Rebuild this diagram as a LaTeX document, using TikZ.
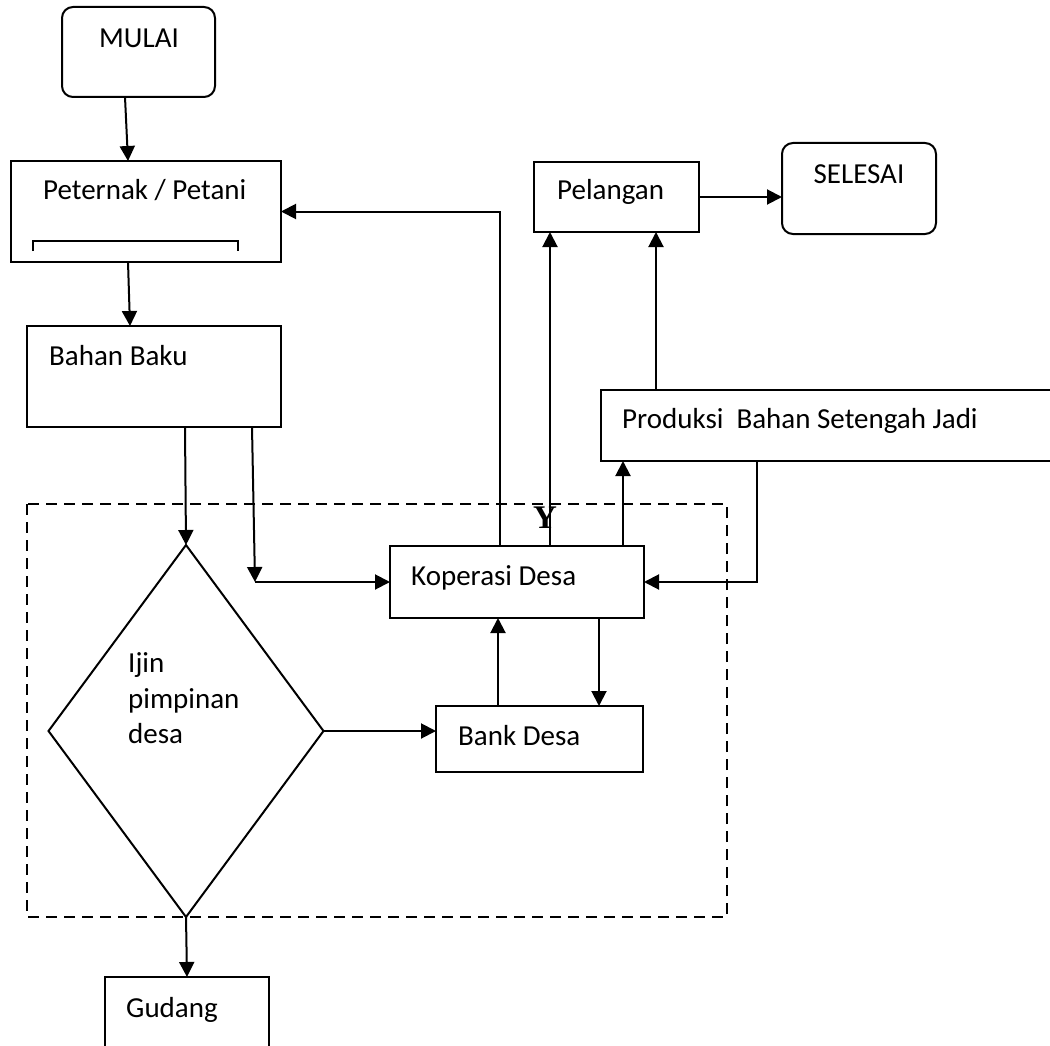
\documentclass[tikz,border=0pt]{standalone}
\usepackage{fontspec}
\setmainfont{Carlito}
\newfontfamily\yfont{Liberation Serif}
\usetikzlibrary{arrows.meta,shapes.geometric}
\begin{document}
\begin{tikzpicture}[x=1pt,y=-1pt,
  every node/.style={font=\fontsize{29}{36}\selectfont},
  box/.style={draw,line width=2pt,anchor=north west,inner sep=0pt,outer sep=0pt},
  rbox/.style={box,rounded corners=11pt},
  lbl/.style={anchor=base west,inner sep=0pt},
  arr/.style={line width=2pt,-{Triangle[length=15pt,width=15pt]}},
  grp/.style={line width=2.4pt,dash pattern=on 11pt off 7pt}]
\useasboundingbox (0,0) rectangle (1050,1046);
% dashed group
\draw[grp] (27,504) rectangle (727,917);
% boxes
\node[rbox,minimum width=153pt,minimum height=90pt] (mulai) at (62,7) {};
\node[anchor=base,inner sep=0pt] (tmulai) at (139,48) {MULAI};
\node[box,minimum width=270pt,minimum height=101pt] (peternak) at (11,161) {};
\node[lbl] (tpeternak) at (43,200) {Peternak / Petani};
\draw[line width=1.6pt] (33,251) -- (33,241) -- (238,241) -- (238,251);
\node[box,minimum width=254pt,minimum height=101pt] (bahan) at (27,326) {};
\node[lbl] (tbahan) at (49,365) {Bahan Baku};
\node[box,minimum width=165pt,minimum height=70pt] (pelangan) at (534,162) {};
\node[lbl] (tpelangan) at (557,200) {Pelangan};
\node[rbox,minimum width=154pt,minimum height=91pt] (selesai) at (782,143) {};
\node[anchor=base,inner sep=0pt] (tselesai) at (859,183) {SELESAI};
\node[box,minimum width=469pt,minimum height=71pt] (produksi) at (601,390) {};
\node[lbl] (tproduksi) at (622,428) {Produksi\ \ Bahan Setengah Jadi};
\node[box,minimum width=254pt,minimum height=72pt] (koperasi) at (390,546) {};
\node[lbl] (tkoperasi) at (411,585) {Koperasi Desa};
\node[box,minimum width=207pt,minimum height=66pt] (bank) at (436,706) {};
\node[lbl] (tbank) at (458,745) {Bank Desa};
\node[box,minimum width=164pt,minimum height=90pt] (gudang) at (105,977) {};
\node[lbl] (tgudang) at (126,1017) {Gudang};
\node[draw,diamond,line width=2pt,inner sep=0pt,outer sep=0pt,minimum width=275pt,minimum height=372pt] (ijin) at (186,731) {};
\node[lbl] (tijin1) at (128,672) {Ijin};
\node[lbl] (tijin2) at (128,708) {pimpinan};
\node[lbl] (tijin3) at (128,743) {desa};
\node[inner sep=0pt,font=\yfont\bfseries\fontsize{33}{36}\selectfont] (y) at (545,518) {Y};
% helper coordinates
\coordinate (c1) at (255,582);
\coordinate (xa) at (500,0);
\coordinate (xb) at (550,0);
\coordinate (xc) at (623,0);
\coordinate (xd) at (656,0);
\coordinate (xe) at (757,0);
\coordinate (xf) at (599,0);
\coordinate (xg) at (498,0);
% connectors
\draw[arr] ([xshift=-13.5pt]mulai.south) -- ([xshift=-18pt]peternak.north);
\draw[arr] ([xshift=-18pt]peternak.south) -- ([xshift=-24pt]bahan.north);
\draw[arr] ([xshift=31pt]bahan.south) -- (ijin.north);
\draw[arr] ([xshift=98pt]bahan.south) -- (c1);
\draw[arr] (c1) -- (koperasi.west);
\draw[arr] (ijin.east) -- (ijin.east -| bank.west);
\draw[arr] (xa |- koperasi.north) |- (peternak.east);
\draw[arr] (xb |- koperasi.north) -- (xb |- pelangan.south);
\draw[arr] (xc |- koperasi.north) -- (xc |- produksi.south);
\draw[arr] (xd |- produksi.north) -- (xd |- pelangan.south);
\draw[arr] (pelangan.east) -- (pelangan.east -| selesai.west);
\draw[arr] (xe |- produksi.south) |- (koperasi.east);
\draw[arr] (xf |- koperasi.south) -- (xf |- bank.north);
\draw[arr] (xg |- bank.north) -- (xg |- koperasi.south);
\draw[arr] (ijin.south) -- (gudang.north);
\end{tikzpicture}
\end{document}
